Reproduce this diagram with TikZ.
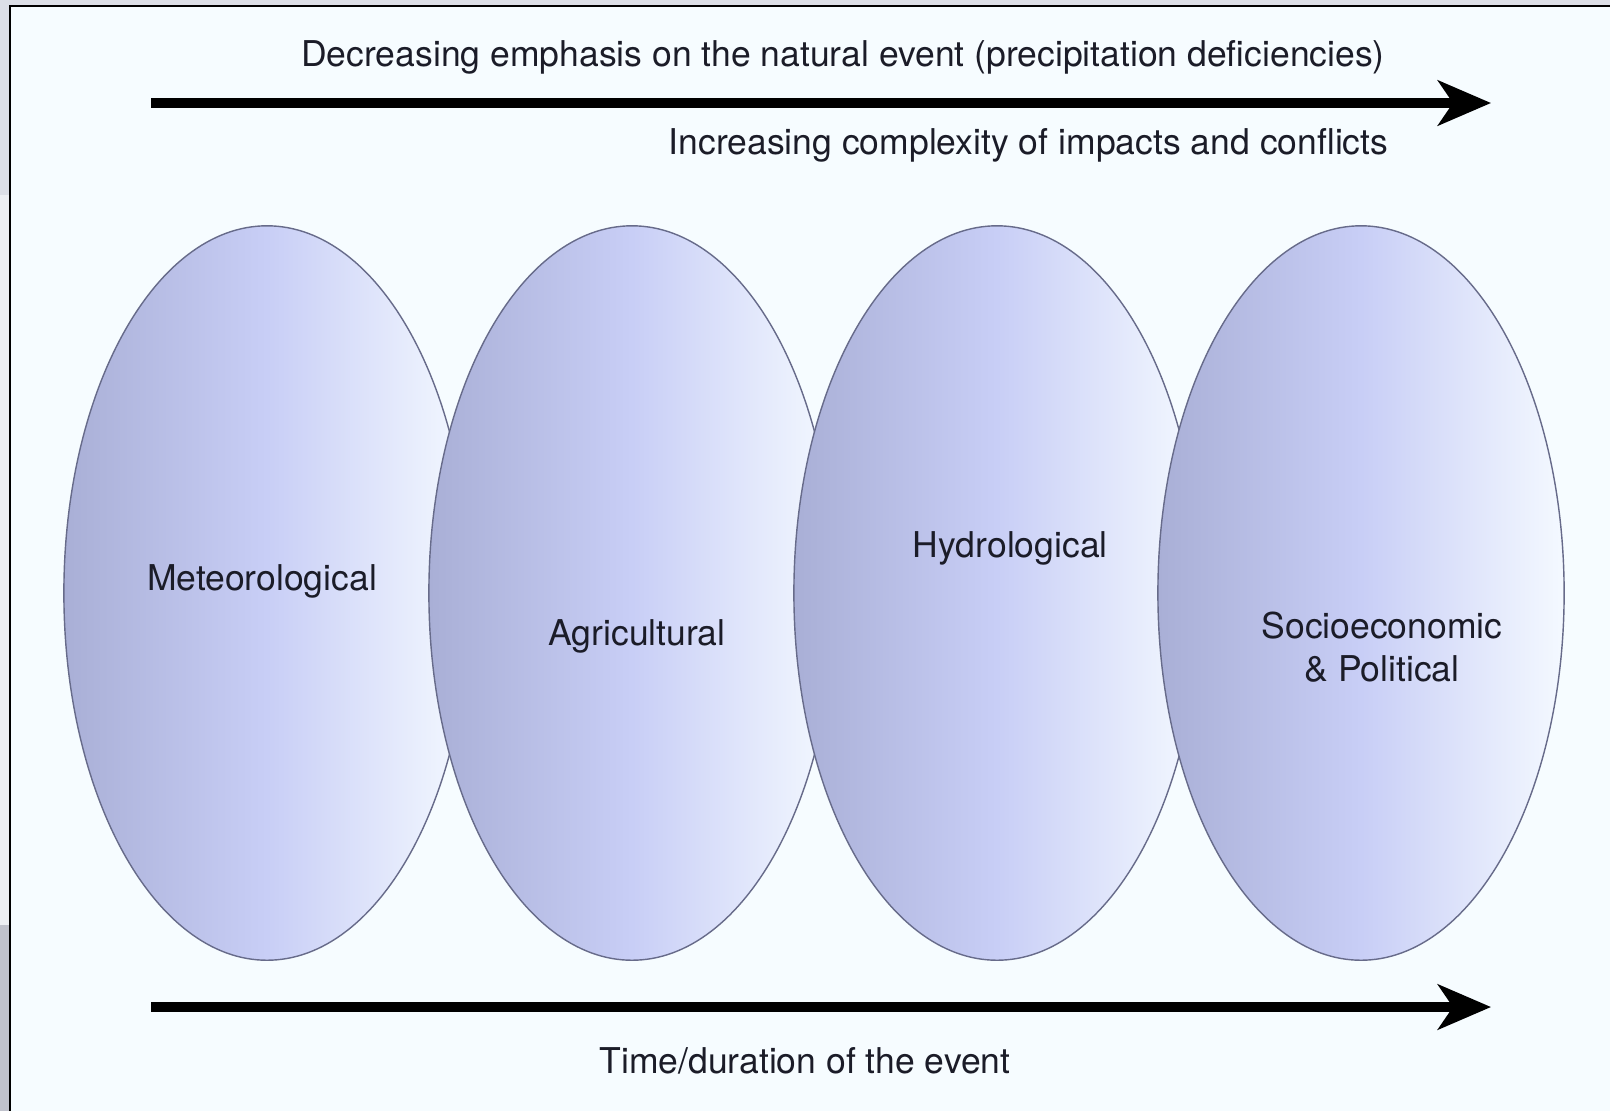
\documentclass[tikz,border=0pt]{standalone}
\usepackage{fontspec}
\setmainfont{TeX Gyre Heros}
\usetikzlibrary{shapes.geometric,arrows.meta}
\definecolor{outergrey}{HTML}{DCDFE7}
\definecolor{stripgrey}{HTML}{EDEFF3}
\definecolor{stripdark}{HTML}{C0C2CC}
\definecolor{pagebg}{HTML}{F6FCFF}
\definecolor{ellline}{HTML}{676B8A}
\definecolor{ellleft}{HTML}{A9AFD6}
\definecolor{ellmid}{HTML}{C8CEF6}
\definecolor{ellright}{HTML}{F4F9FF}
\definecolor{inkdark}{HTML}{1B1C28}
\tikzstyle{drought}=[
        ellipse,
        draw = ellline,
        line width = 0.4pt,
        minimum width = 4.06cm,
        minimum height = 7.34cm,
        inner sep = 0pt,
        left color = ellleft,
        right color = ellright,
        middle color = ellmid
    ]
\tikzstyle{caption}=[
        text = inkdark,
        font = \fontsize{10.1}{12.2}\selectfont,
        inner sep = 0pt
    ]

\begin{document}
\begin{tikzpicture}[x=0.01cm, y=-0.01cm, trend/.style = {line width=2.6pt, -{Stealth[length=5.3mm, width=4.5mm, inset=1.5mm]}}]
        \useasboundingbox (0,0) rectangle (1610,1111);
        % page and frame
        \fill[outergrey] (0,0) rectangle (1610,1111);
        \fill[stripgrey] (0,195) rectangle (10,925);
        \fill[stripdark] (0,925) rectangle (10,1111);
        \fill[pagebg] (10,6) rectangle (1610,1111);
        \draw[black, line width=0.6pt] (10,1111) -- (10,6) -- (1610,6);

        % drought types
        \node[drought] (met) at (267,593) {};
        \node[drought] (agr) at (632,593) {};
        \node[drought] (hyd) at (997,593) {};
        \node[drought] (soc) at (1361,593) {};

        \node[caption] (metlabel) at (262,581) {Meteorological};
        \node[caption] (agrlabel) at (637,636) {Agricultural};
        \node[caption] (hydlabel) at (1010,548) {Hydrological};
        \node[caption, align=center] (soclabel) at (1382,647) {Socioeconomic\\\& Political};

        % trend arrows
        \coordinate (topstart) at (151,103);
        \coordinate (topend) at (1491,103);
        \coordinate (botstart) at (151,1007);
        \coordinate (botend) at (1491,1007);
        \draw[trend] (topstart) -- (topend);
        \draw[trend] (botstart) -- (botend);

        \node[caption] (emphasis) at (843,57) {Decreasing emphasis on the natural event (precipitation deficiencies)};
        \node[caption, anchor=east] (complexity) at (1389,145) {Increasing complexity of impacts and conflicts};
        \node[caption] (duration) at (805,1061) {Time/duration of the event};
    \end{tikzpicture}
\end{document}
